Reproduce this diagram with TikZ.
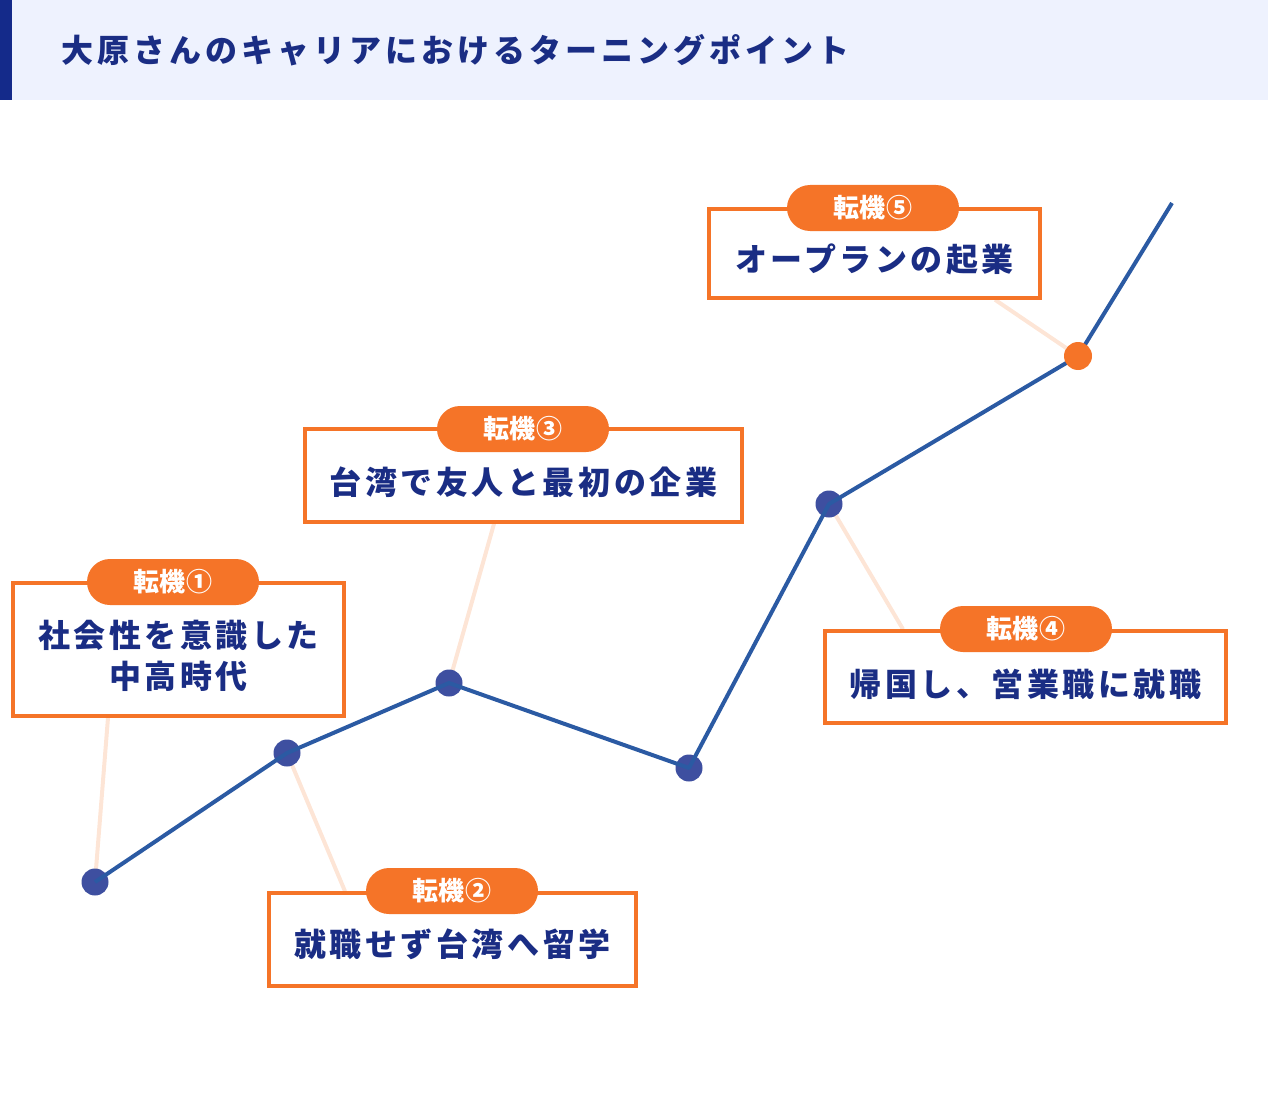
\documentclass[tikz,border=0pt]{standalone}
\usepackage{fontspec}
\setmainfont{Noto Sans CJK JP}[LetterSpace=11]
\newfontfamily\tagfont{Noto Sans CJK JP}[LetterSpace=2]
\usetikzlibrary{positioning,backgrounds}
\definecolor{navy}{HTML}{1A2D84}
\definecolor{bar}{HTML}{142A8A}
\definecolor{headbg}{HTML}{EEF2FE}
\definecolor{accent}{HTML}{F57428}
\definecolor{lineblue}{HTML}{2B5AA3}
\definecolor{dotblue}{HTML}{3E4FA0}
\definecolor{peach}{HTML}{FDE5D6}
\tikzset{
  box/.style     = {draw=accent, line width=3.5pt, fill=white, inner sep=0pt},
  boxtext/.style = {text=navy, font=\fontsize{32}{41}\selectfont\bfseries,
                    align=center, inner sep=0pt},
  tag/.style     = {fill=accent, rounded corners=23pt, minimum width=172pt,
                    minimum height=46pt, inner sep=0pt, text=white,
                    font=\tagfont\fontsize{26}{26}\selectfont\bfseries},
  dot/.style     = {circle, fill=dotblue, inner sep=0pt, minimum size=27pt},
  odot/.style    = {circle, fill=accent, inner sep=0pt, minimum size=28pt},
  trend/.style   = {line width=4pt, draw=lineblue, line join=round},
  link/.style    = {line width=4pt, draw=peach},
}
\begin{document}
\begin{tikzpicture}[x=1pt,y=-1pt]
  \useasboundingbox (0,0) rectangle (1268,1102);
  % header
  \fill[headbg] (0,0) rectangle (1268,100);
  \fill[bar] (0,0) rectangle (12,100);
  \node[anchor=west, text=navy, inner sep=0pt,
        font=\fontsize{32}{32}\selectfont\bfseries\addfontfeature{LetterSpace=12.5}]
        (title) at (61,50) {大原さんのキャリアにおけるターニングポイント};
  % points of the curve
  \coordinate (p1) at (95,882);
  \coordinate (p2) at (287,753);
  \coordinate (p3) at (449,683);
  \coordinate (p4) at (689,768);
  \coordinate (p5) at (829,504);
  \coordinate (p6) at (1078,356);
  \coordinate (pend) at (1172,203);
  % boxes
  \node[box, minimum width=331pt, minimum height=133pt] (b1) at (178.5,649.5) {};
  \node[box, minimum width=367pt, minimum height=93pt] (b2) at (452.5,939.5) {};
  \node[box, minimum width=437pt, minimum height=93pt] (b3) at (523.5,475.5) {};
  \node[box, minimum width=401pt, minimum height=92pt] (b4) at (1025.5,677) {};
  \node[box, minimum width=331pt, minimum height=89pt] (b5) at (874.5,253.5) {};
  \node[boxtext] (t1) at ([yshift=-6pt]b1.center) {社会性を意識した\\中高時代};
  \node[boxtext] (t2) at ([yshift=-5pt]b2.center) {就職せず台湾へ留学};
  \node[boxtext] (t3) at ([yshift=-7pt]b3.center) {台湾で友人と最初の企業};
  \node[boxtext] (t4) at ([yshift=-7pt]b4.center) {帰国し、営業職に就職};
  \node[boxtext] (t5) at ([yshift=-6pt]b5.center) {オープランの起業};
  \node[tag] (g1) at (173,582) {転機①};
  \node[tag] (g2) at (452,891) {転機②};
  \node[tag] (g3) at (523,429) {転機③};
  \node[tag] (g4) at (1026,629) {転機④};
  \node[tag] (g5) at (873,208) {転機⑤};
  % links from boxes to points
  \begin{pgfonlayer}{background}
    \draw[link] (p1) -- ([xshift=-70.5pt]b1.south);
    \draw[link] (p2) -- ([xshift=-107.5pt]b2.north);
    \draw[link] (p3) -- ([xshift=-29.5pt]b3.south);
    \draw[link] (p5) -- ([xshift=-122.5pt]b4.north);
    \draw[link] (p6) -- ([xshift=120.5pt]b5.south);
  \end{pgfonlayer}
  % curve
  \foreach \i in {1,...,5} \node[dot] (d\i) at (p\i) {};
  \draw[trend] (p1) -- (p2) -- (p3) -- (p4) -- (p5) -- (p6) -- (pend);
  \node[odot] (d6) at (p6) {};
\end{tikzpicture}
\end{document}
